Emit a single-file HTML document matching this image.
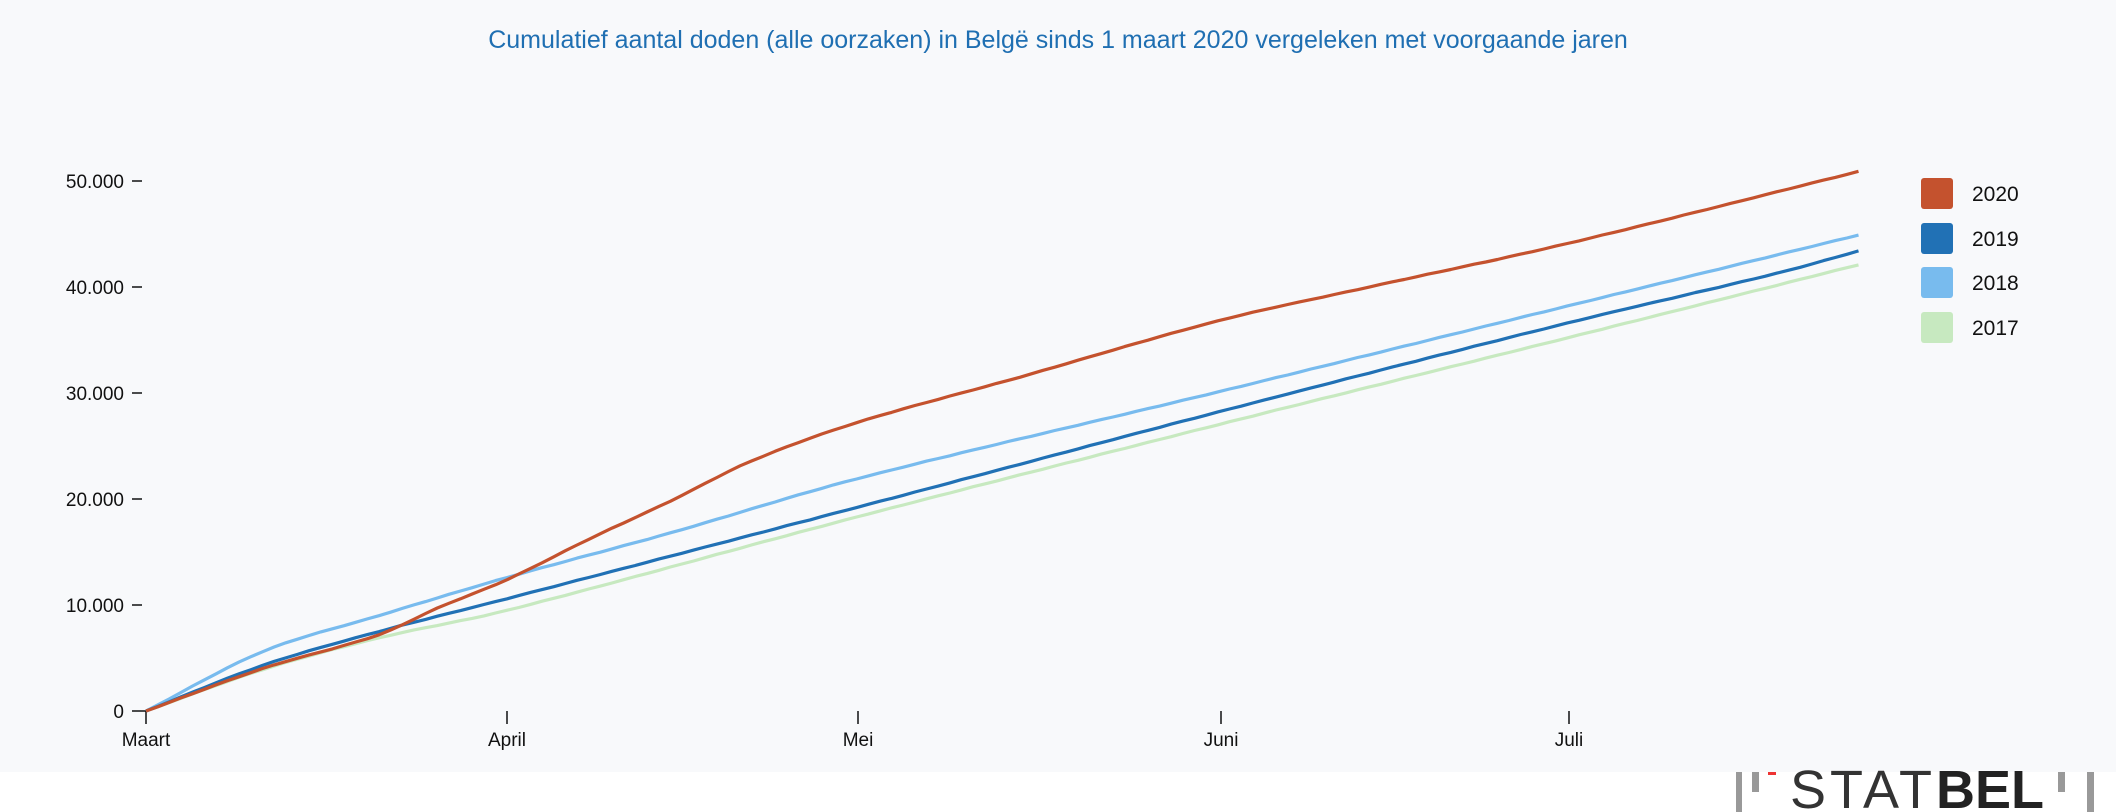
<!DOCTYPE html>
<html><head><meta charset="utf-8"><style>
html,body{margin:0;padding:0;width:2116px;height:812px;background:#fff;overflow:hidden}
</style></head><body>
<svg id="s" width="2116" height="812" xmlns="http://www.w3.org/2000/svg" font-family="Liberation Sans, sans-serif">
<rect x="0" y="0" width="2116" height="772" fill="#f8f9fb"/>
<text x="1058" y="48" text-anchor="middle" font-size="25" fill="#1f6fb2">Cumulatief aantal doden (alle oorzaken) in Belgë sinds 1 maart 2020 vergeleken met voorgaande jaren</text>
<g font-size="19" fill="#111" text-anchor="end">
<text x="124" y="718">0</text>
<text x="124" y="612">10.000</text>
<text x="124" y="506">20.000</text>
<text x="124" y="400">30.000</text>
<text x="124" y="294">40.000</text>
<text x="124" y="188">50.000</text>
</g>
<g stroke="#111" stroke-width="1.5">
<line x1="132" y1="711" x2="146" y2="711"/>
<line x1="132" y1="605" x2="142" y2="605"/>
<line x1="132" y1="499" x2="142" y2="499"/>
<line x1="132" y1="393" x2="142" y2="393"/>
<line x1="132" y1="287" x2="142" y2="287"/>
<line x1="132" y1="181" x2="142" y2="181"/>
<line x1="146" y1="711" x2="146" y2="724"/>
<line x1="507" y1="711" x2="507" y2="724"/>
<line x1="858" y1="711" x2="858" y2="724"/>
<line x1="1221" y1="711" x2="1221" y2="724"/>
<line x1="1569" y1="711" x2="1569" y2="724"/>
</g>
<g font-size="19" fill="#111" text-anchor="middle">
<text x="146" y="746">Maart</text>
<text x="507" y="746">April</text>
<text x="858" y="746">Mei</text>
<text x="1221" y="746">Juni</text>
<text x="1569" y="746">Juli</text>
</g>
<g id="lines" fill="none" stroke-width="3.2" stroke-linejoin="round"></g>
<g font-size="21" fill="#111">
<rect x="1921" y="178" width="32" height="31" rx="3" fill="#c4522e"/><text x="1972" y="201">2020</text>
<rect x="1921" y="223" width="32" height="31" rx="3" fill="#2171b5"/><text x="1972" y="246">2019</text>
<rect x="1921" y="267" width="32" height="31" rx="3" fill="#78bbee"/><text x="1972" y="290">2018</text>
<rect x="1921" y="312" width="32" height="31" rx="3" fill="#c7e9c0"/><text x="1972" y="335">2017</text>
</g>
<g fill="#222">
<rect x="1736" y="772" width="6" height="40" fill="#999"/>
<rect x="1752" y="772" width="7" height="20" fill="#999"/>
<rect x="1768" y="772" width="8" height="3" fill="#e33"/>
<text x="1790" y="808" font-size="54" letter-spacing="4" fill="#333">STAT</text>
<text x="1936" y="808" font-size="54" font-weight="bold">BEL</text>
<rect x="2058" y="772" width="7" height="20" fill="#999"/>
<rect x="2087" y="772" width="7" height="40" fill="#999"/>
</g>
</svg>
<script>
var X0=146,PX=11.65,Y0=711,PY=106/10000;
var series=[
["#c7e9c0",[[0,0],[10,3900],[20,6900],[31,9500],[61,18300],[92,27000],[122,35200],[147,42100]]],
["#78bbee",[[0,0],[10,5600],[20,9000],[31,12600],[45,16800],[61,21900],[92,30100],[122,38200],[147,44900]]],
["#2171b5",[[0,0],[10,4300],[20,7500],[31,10600],[61,19200],[92,28200],[122,36600],[140,41300],[147,43400]]],
["#c4522e",[[0,0],[10,4000],[20,7200],[25,9700],[31,12400],[38,16200],[45,19800],[52,23600],[61,27200],[75,31500],[92,36800],[105,40000],[122,44100],[147,50900]]]
];
function interp(p,t){
 var i=0;while(i<p.length-2&&t>p[i+1][0])i++;
 var a=p[i],b=p[i+1];
 var h=b[0]-a[0],f=(t-a[0])/h;
 function slope(k){
  if(k==0)return (p[1][1]-p[0][1])/(p[1][0]-p[0][0]);
  if(k==p.length-1)return (p[k][1]-p[k-1][1])/(p[k][0]-p[k-1][0]);
  return (p[k+1][1]-p[k-1][1])/(p[k+1][0]-p[k-1][0]);
 }
 var m0=slope(i)*h,m1=slope(i+1)*h;
 var f2=f*f,f3=f2*f;
 return (2*f3-3*f2+1)*a[1]+(f3-2*f2+f)*m0+(-2*f3+3*f2)*b[1]+(f3-f2)*m1;
}
var g=document.getElementById('lines'),h='';
series.forEach(function(s,si){
 var p=s[1],d='';
 for(var t=0;t<=147;t+=1){
  var v=interp(p,t)+Math.sin(t*1.7+si)*15;
  if(t==0)v=0;
  d+=(t?'L':'M')+(X0+t*PX).toFixed(1)+' '+(Y0-v*PY).toFixed(1);
 }
 h+='<path d="'+d+'" stroke="'+s[0]+'"/>';
});
g.innerHTML=h;
</script>
</body></html>
